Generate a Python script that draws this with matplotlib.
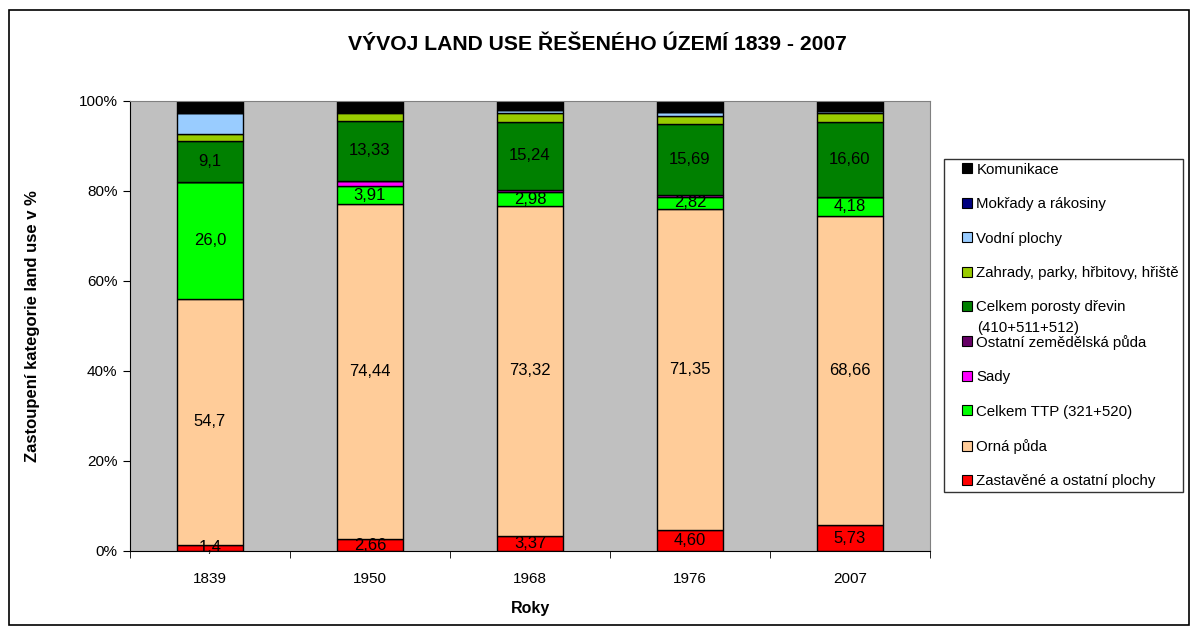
import matplotlib
matplotlib.use("Agg")
import matplotlib.pyplot as plt
from matplotlib.patches import Rectangle
from matplotlib.lines import Line2D
import numpy as np

plt.rcParams['font.family'] = ['Liberation Sans', 'DejaVu Sans']

years = ["1839", "1950", "1968", "1976", "2007"]
categories = ["Zastavěné a ostatní plochy", "Orná půda", "Celkem TTP (321+520)", "Sady",
              "Ostatní zemědělská půda", "Celkem porosty dřevin",
              "Zahrady, parky, hřbitovy, hřiště", "Vodní plochy", "Mokřady a rákosiny", "Komunikace"]
porosty_second_line = "(410+511+512)"
colors = ["#FF0000", "#FFCC99", "#00FF00", "#FF00FF", "#660066", "#008000",
          "#99CC00", "#99CCFF", "#000080", "#000000"]

zastavene = [1.4, 2.66, 3.37, 4.60, 5.73]
orna = [54.7, 74.44, 73.32, 71.35, 68.66]
ttp = [26.0, 3.91, 2.98, 2.82, 4.18]
sady = [0.0, 1.25, 0.5, 0.25, 0.1]
ostatni_zem = [0.0, 0.0, 0.0, 0.2, 0.0]
porosty = [9.1, 13.33, 15.24, 15.69, 16.60]
zahrady = [1.5, 1.7, 2.0, 1.85, 2.1]
vodni = [4.7, 0.3, 0.7, 0.7, 0.4]
mokrady = [0.0, 0.0, 0.0, 0.0, 0.0]
komunikace = [2.6, 2.41, 1.89, 2.54, 2.23]

labels_zastavene = ["1,4", "2,66", "3,37", "4,60", "5,73"]
labels_orna = ["54,7", "74,44", "73,32", "71,35", "68,66"]
labels_ttp = ["26,0", "3,91", "2,98", "2,82", "4,18"]
labels_porosty = ["9,1", "13,33", "15,24", "15,69", "16,60"]

series = [zastavene, orna, ttp, sady, ostatni_zem, porosty, zahrady, vodni, mokrady, komunikace]
series_labels = {0: labels_zastavene, 1: labels_orna, 2: labels_ttp, 5: labels_porosty}

W, H = 1193, 631
fig = plt.figure(figsize=(W / 100, H / 100), dpi=100)
ax = fig.add_axes([130 / W, 1 - 551 / H, 800 / W, 450 / H])
ax.set_facecolor("#C0C0C0")

data = np.array(series, dtype=float)
totals = data.sum(axis=0)
pct = data / totals * 100
x = np.arange(len(years))
bottom = np.zeros(len(years))
for i, (vals, col) in enumerate(zip(pct, colors)):
    bars = ax.bar(x, vals, 0.41, bottom=bottom, color=col, edgecolor="black", linewidth=1.0)
    if i in series_labels:
        ax.bar_label(bars, labels=series_labels[i], label_type="center", fontsize=12)
    bottom += vals

ax.set_xlim(-0.5, len(years) - 0.5)
ax.set_ylim(0, 100)
ax.set_yticks(np.arange(0, 101, 20))
ax.set_yticklabels([f"{v}%" for v in range(0, 101, 20)], fontsize=11)
ax.set_xticks(x)
ax.set_xticklabels(years, fontsize=11)
ax.set_xticks(np.arange(-0.5, len(years), 1), minor=True)
ax.tick_params(axis="x", which="major", length=0, pad=15)
ax.tick_params(axis="x", which="minor", length=5, direction="out")
ax.tick_params(axis="y", length=5, direction="out", pad=4)
for s in ["top", "right"]:
    ax.spines[s].set_color("#808080")
ax.spines["left"].set_color("black")
ax.spines["bottom"].set_color("black")

ax.set_ylabel("Zastoupení kategorie land use v %", fontsize=12, fontweight="bold", labelpad=28)
ax.set_xlabel("Roky", fontsize=11.5, fontweight="bold", labelpad=11)
fig.text(597 / W, 1 - 44 / H, "VÝVOJ LAND USE ŘEŠENÉHO ÚZEMÍ 1839 - 2007",
         ha="center", va="center", fontsize=15.2, fontweight="bold")

fs = 10.8
handles = [Line2D([], [], linestyle="none", marker="s", markersize=7.5, markerfacecolor=c,
                  markeredgecolor="black", markeredgewidth=0.8, label=l)
           for c, l in zip(colors, categories)][::-1]
leg = fig.legend(handles=handles, loc="upper left", bbox_to_anchor=(944 / W, 1 - 159 / H),
                 fontsize=fs, frameon=True, fancybox=False, edgecolor="black",
                 handlelength=2.6, handletextpad=-0.7,
                 labelspacing=1.36, borderpad=0.25, borderaxespad=0)
leg.get_frame().set_linewidth(1.0)
leg.set_zorder(5)
fig.text(977 / W, 1 - 328 / H, porosty_second_line, ha="left", va="center", fontsize=fs, zorder=6)

fig.patches.append(Rectangle((9 / W, 1 - 625 / H), 1180 / W, 615 / H, transform=fig.transFigure,
                             fill=False, edgecolor="black", linewidth=1.2))

fig.savefig("out.png", dpi=100, facecolor="white")
